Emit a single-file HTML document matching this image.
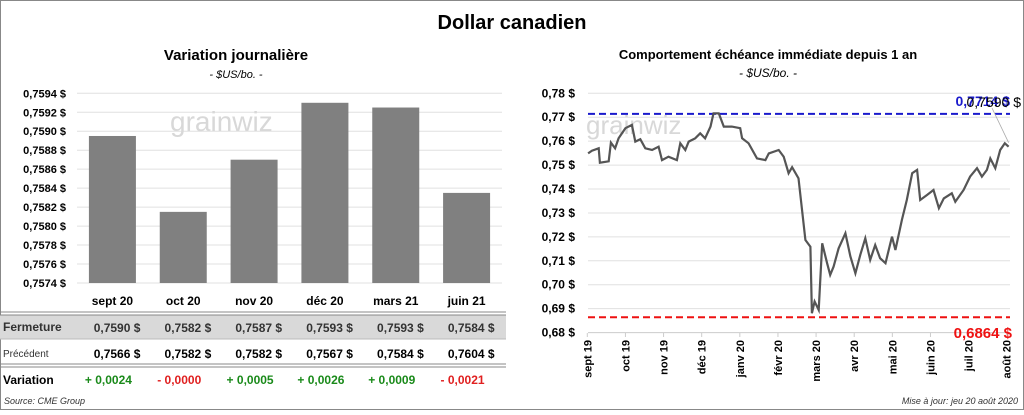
<!DOCTYPE html>
<html><head><meta charset="utf-8"><style>
body{margin:0;width:1024px;height:410px;overflow:hidden;background:#fff;font-family:"Liberation Sans",sans-serif}
svg text{font-family:"Liberation Sans",sans-serif}
</style></head><body>
<svg id="s" width="1024" height="410" xmlns="http://www.w3.org/2000/svg">
<rect x="0.5" y="0.5" width="1023" height="409" fill="#fff" stroke="#888"/>
<text x="512" y="29" font-size="20" font-weight="bold" text-anchor="middle">Dollar canadien</text>
<text x="236" y="60" font-size="15" font-weight="bold" text-anchor="middle">Variation  journalière</text>
<text x="236" y="78" font-size="11" font-style="italic" text-anchor="middle">- $US/bo. -</text>
<text x="768" y="59" font-size="13" font-weight="bold" text-anchor="middle">Comportement échéance immédiate depuis 1 an</text>
<text x="768" y="77" font-size="12" font-style="italic" text-anchor="middle">- $US/bo. -</text>
<g id="left"></g>
<g id="right"></g>
<g id="table"></g>
<text x="4" y="404" font-size="9" font-style="italic" fill="#333">Source: CME Group</text>
<text x="1018" y="404" font-size="9" font-style="italic" fill="#333" text-anchor="end">Mise à jour: jeu 20 août 2020</text>
</svg>
<script>
const barCats=["sept 20","oct 20","nov 20","déc 20","mars 21","juin 21"];
const barVals=[0.75895,0.75815,0.7587,0.7593,0.75925,0.75835];
const barTicks=[0.7574,0.7576,0.7578,0.7580,0.7582,0.7584,0.7586,0.7588,0.7590,0.7592,0.7594];
const closeVals=["0,7590","0,7582","0,7587","0,7593","0,7593","0,7584"];
const prevVals=["0,7566","0,7582","0,7582","0,7567","0,7584","0,7604"];
const varVals=["+ 0,0024","- 0,0000","+ 0,0005","+ 0,0026","+ 0,0009","- 0,0021"];
const months=["sept 19","oct 19","nov 19","déc 19","janv 20","févr 20","mars 20","avr 20","mai 20","juin 20","juil 20","août 20"];
const lineTicks=[0.68,0.69,0.70,0.71,0.72,0.73,0.74,0.75,0.76,0.77,0.78];
const lineX=[0.02,0.12,0.30,0.33,0.56,0.62,0.73,0.82,1.00,1.17,1.26,1.39,1.52,1.70,1.87,1.96,2.13,2.35,2.44,2.57,2.66,2.83,2.96,3.09,3.23,3.31,3.45,3.58,3.79,4.01,4.06,4.23,4.45,4.67,4.76,5.02,5.15,5.28,5.37,5.54,5.72,5.85,5.89,5.96,6.07,6.16,6.29,6.37,6.46,6.59,6.77,6.90,7.03,7.16,7.29,7.42,7.55,7.68,7.82,7.99,8.08,8.25,8.38,8.52,8.65,8.73,8.91,9.08,9.22,9.35,9.56,9.65,9.87,10.04,10.22,10.35,10.48,10.57,10.70,10.83,10.95,11.05];
const lineY=[0.7549,0.756,0.757,0.751,0.7516,0.7594,0.757,0.7612,0.7654,0.7668,0.7598,0.7608,0.757,0.7563,0.7577,0.7521,0.7535,0.7521,0.7591,0.7563,0.7598,0.7612,0.7633,0.7612,0.7661,0.7716,0.7716,0.7661,0.7661,0.7654,0.7612,0.7591,0.7528,0.7521,0.7549,0.7563,0.7535,0.7466,0.7491,0.7445,0.7187,0.7159,0.6881,0.693,0.6895,0.7173,0.709,0.7041,0.7076,0.7152,0.7215,0.7118,0.7048,0.7125,0.7194,0.7104,0.7166,0.7111,0.709,0.7201,0.7145,0.7271,0.7354,0.7466,0.748,0.7354,0.7375,0.7396,0.732,0.7361,0.7382,0.7347,0.7396,0.7452,0.7487,0.7452,0.748,0.7528,0.7487,0.7563,0.7591,0.7577];
const highVal=0.7714, lowVal=0.6864, lastVal=0.7590;
const NS="http://www.w3.org/2000/svg";
function mk(p,t,a,txt){const e=document.createElementNS(NS,t);for(const k in a)e.setAttribute(k,a[k]);if(txt!==undefined)e.textContent=txt;p.appendChild(e);return e;}
const fmt=(v,d)=>v.toFixed(d).replace('.',',');
// left
const L=document.getElementById('left');
const lx0=77,lx1=502,ly=v=>93.3+(0.7594-v)/0.0002*18.97,cw=(lx1-lx0)/barCats.length;
barTicks.forEach(t=>{let g=mk(L,'line',{x1:lx0,x2:lx1,y1:ly(t),y2:ly(t),stroke:'#e0e0e0'});
let tx=mk(L,'text',{x:66,y:ly(t)+4,'font-size':11,'font-weight':'bold','text-anchor':'end'},fmt(t,4)+' $');});
mk(L,'text',{x:170,y:131,'font-size':28,fill:'#d8d8d8'},'grainwiz');
barVals.forEach((v,i)=>{let r=mk(L,'rect',{x:lx0+cw*i+cw/2-23.5,y:ly(v),width:47,height:ly(0.7574)-ly(v),fill:'#808080'});});
// table
const T=document.getElementById('table');
mk(T,'rect',{x:0,y:315,width:506,height:24,fill:'#d9d9d9'});
[[312,'#888'],[315,'#888'],[339,'#bbb'],[364,'#888'],[367,'#888']].forEach(([y,c])=>mk(T,'line',{x1:0,x2:506,y1:y,y2:y,stroke:c,'stroke-width':1}));
mk(T,'text',{x:3,y:331,'font-size':12,'font-weight':'bold',fill:'#333'},'Fermeture');
mk(T,'text',{x:3,y:357,'font-size':10,fill:'#333'},'Précédent');
mk(T,'text',{x:3,y:384,'font-size':12,'font-weight':'bold'},'Variation');
barCats.forEach((c,i)=>{const cx=lx0+cw*i+cw/2;
let h=mk(T,'text',{x:cx,y:305,'font-size':12,'font-weight':'bold','text-anchor':'middle'},c);
mk(T,'text',{x:cx+28,y:332,'font-size':12,'font-weight':'bold','text-anchor':'end',fill:'#333'},closeVals[i]+'  $');
mk(T,'text',{x:cx+28,y:358,'font-size':12,'font-weight':'bold','text-anchor':'end'},prevVals[i]+'  $');
mk(T,'text',{x:cx-4,y:384,'font-size':12,'font-weight':'bold','text-anchor':'middle',fill:varVals[i][0]=='+'?'#1a8a1a':'#e02020'},varVals[i]);});
// right
const R=document.getElementById('right');
const rx0=588,rx1=1010,xm=m=>587.3+38.13*m,ry=v=>332.6-(v-0.68)/0.01*23.93;
lineTicks.forEach(t=>{let g=mk(R,'line',{x1:rx0,x2:rx1,y1:ry(t),y2:ry(t),stroke:t==0.68?'#ccc':'#e0e0e0'});
let tx=mk(R,'text',{x:575,y:ry(t)+4,'font-size':12,'font-weight':'bold','text-anchor':'end'},fmt(t,2)+' $');});
mk(R,'text',{x:586,y:134,'font-size':26,fill:'#d8d8d8'},'grainwiz');
months.forEach((m,i)=>{const x=xm(i);mk(R,'line',{x1:x,x2:x,y1:333,y2:337,stroke:'#ccc'});
let t=mk(R,'text',{x:0,y:0,'font-size':11,'font-weight':'bold','text-anchor':'end',transform:`translate(${x+4},340) rotate(-90)`},m);});
let hl=mk(R,'line',{x1:rx0,x2:rx1,y1:ry(highVal),y2:ry(highVal),stroke:'#1a1acc','stroke-width':2,'stroke-dasharray':'7,4'});
let ll=mk(R,'line',{x1:rx0,x2:rx1,y1:ry(lowVal),y2:ry(lowVal),stroke:'#ee1111','stroke-width':2,'stroke-dasharray':'7,4'});
let d=lineX.map((x,i)=>(i?'L':'M')+xm(x).toFixed(1)+','+ry(lineY[i]).toFixed(1)).join('');
let p=mk(R,'path',{d:d,fill:'none',stroke:'#555','stroke-width':2.2});
mk(R,'line',{x1:992,y1:108,x2:xm(lineX[lineX.length-1]),y2:ry(lineY[lineY.length-1])-4,stroke:'#aaa','stroke-width':0.8});
let a=mk(R,'text',{x:1010,y:106,'font-size':14,'font-weight':'bold',fill:'#1a1acc','text-anchor':'end'},fmt(highVal,4)+' $');
let b=mk(R,'text',{x:1021,y:107,'font-size':14,fill:'#000','text-anchor':'end'},fmt(lastVal,4)+' $');
let c=mk(R,'text',{x:1012,y:338,'font-size':15,'font-weight':'bold',fill:'#ee1111','text-anchor':'end'},fmt(lowVal,4)+'  $');
</script>
</body></html>
